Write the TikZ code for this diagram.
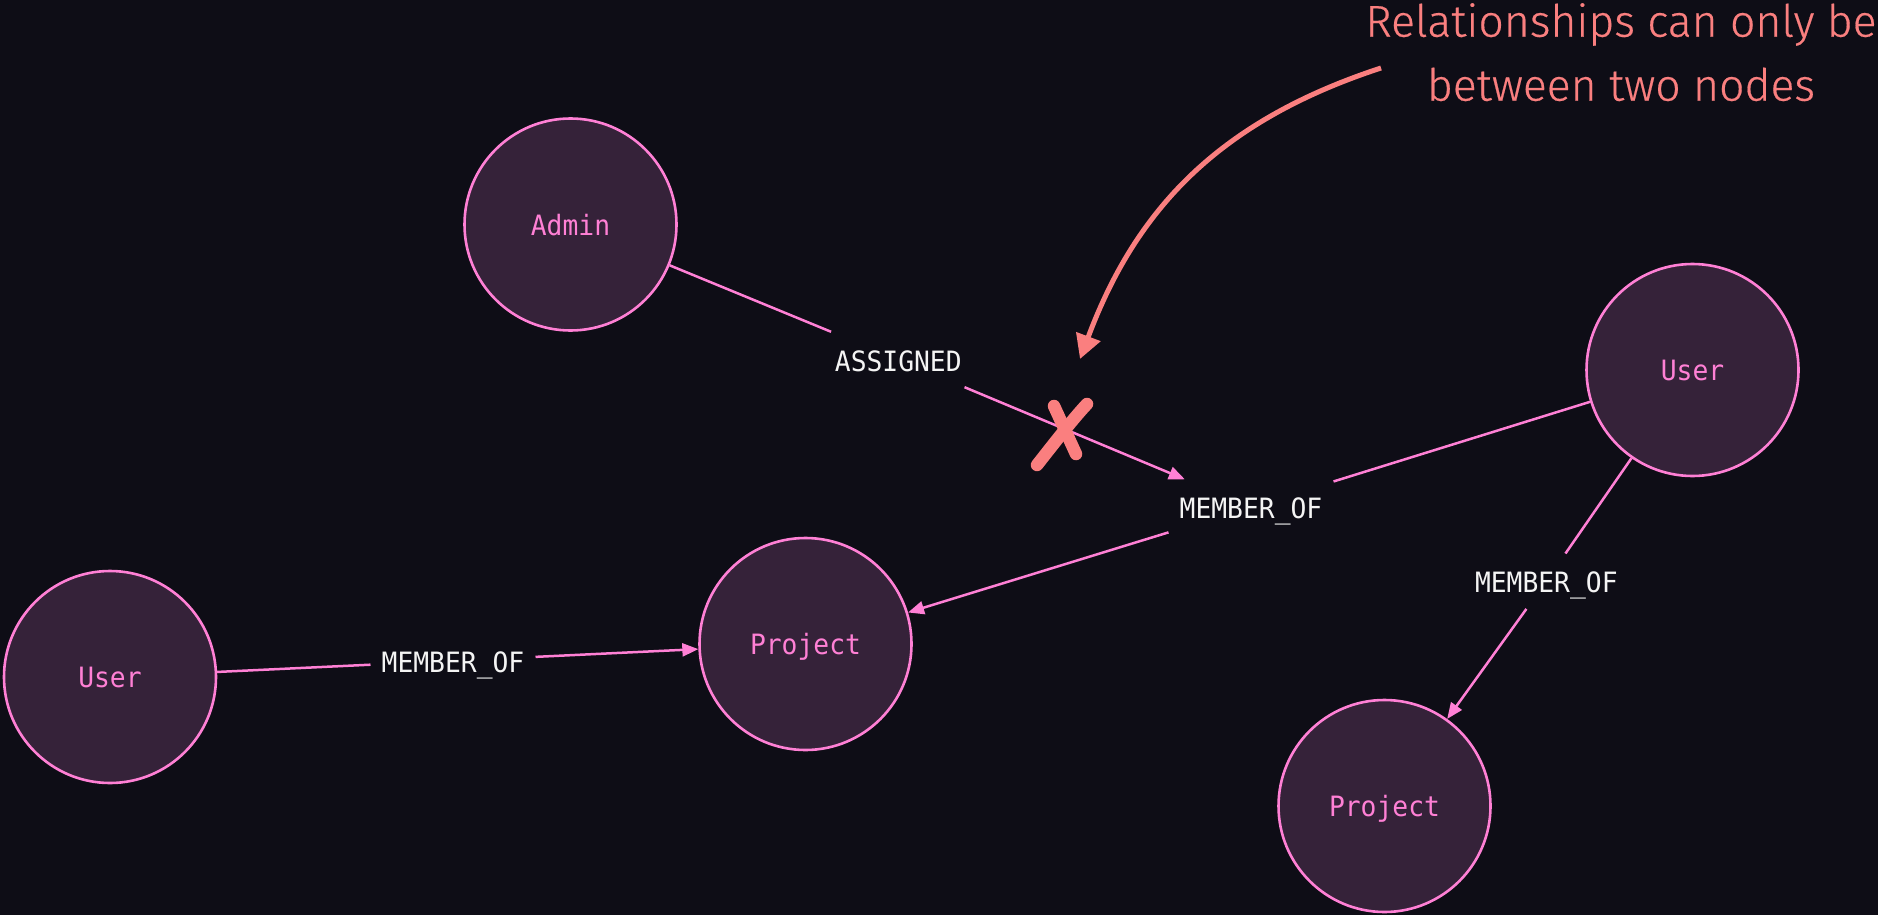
\documentclass[tikz,border=0pt]{standalone}
\usepackage{fontspec}
\usetikzlibrary{arrows.meta}
\newfontfamily\monofont[FakeStretch=0.94]{DejaVu Sans Mono}
\newfontfamily\notefont[FakeBold=0.4]{Fira Sans Light}
\definecolor{bg}{HTML}{0E0D16}
\definecolor{nodefill}{HTML}{352239}
\definecolor{edgepink}{HTML}{FF80D5}
\definecolor{reltext}{HTML}{F4F4F4}
\definecolor{notered}{HTML}{FA7F7F}

\begin{document}
\begin{tikzpicture}[x=1pt,y=-1pt,
  entity/.style={circle, draw=edgepink, line width=2.6pt, fill=nodefill,
    minimum size=212pt, inner sep=0pt, text=edgepink,
    text height=21pt, text depth=0pt,
    font=\monofont\fontsize{28}{30}\selectfont},
  rel/.style={anchor=base, inner xsep=11pt, inner ysep=16pt,
    text height=23pt, text depth=0pt, text=reltext,
    font=\monofont\fontsize{28}{30}\selectfont},
  link/.style={draw=edgepink, line width=2.5pt},
  linkarrow/.style={link, -{Triangle[length=16pt,width=13pt]}},
  note/.style={anchor=base, inner sep=0pt, text=notered,
    font=\notefont\fontsize{44.5}{54}\selectfont},
  strike/.style={draw=notered, line width=12.5pt, line cap=round}
]
% canvas
\path[use as bounding box, fill=bg] (0,0) rectangle (1878,915);

% entities
\node[entity] (admin) at (570.5,224.5) {Admin};
\node[entity] (userR) at (1692.5,370) {User};
\node[entity] (userL) at (110,677) {User};
\node[entity] (projM) at (805.5,644) {Project};
\node[entity] (projB) at (1384.5,806) {Project};

% relationship labels
\node[rel] (assigned) at (898.3,371) {ASSIGNED};
\node[rel] (memTop) at (1251,518.5) {MEMBER\_OF};
\node[rel] (memRight) at (1546.3,592.7) {MEMBER\_OF};
\node[rel] (memLeft) at (453,672.3) {MEMBER\_OF};

% relationships
\draw[link] (admin) -- (assigned);
\draw[linkarrow] (assigned) -- (memTop);
\draw[link] (userR) -- (memTop);
\draw[linkarrow] (memTop) -- (projM);
\draw[link] (userR) -- (memRight);
\draw[linkarrow] (memRight) -- (projB);
\draw[link] (userL) -- (memLeft);
\draw[linkarrow] (memLeft) -- (projM);

% annotation
\node[note] (noteA) at (1621,36.7) {Relationships can only be};
\node[note] (noteB) at (1621,100.7) {between two nodes};
\coordinate (tailStart) at (1381,68);
\coordinate (tailTip) at (1080,359);
\draw[notered, line width=5pt, -{Triangle[length=24pt,width=25pt]}]
  (tailStart) .. controls (1219,121) and (1136,209) .. (tailTip);

% cross over the invalid relationship
\draw[strike] (1037,465) .. controls (1052,446) and (1072,420) .. (1087,404);
\draw[strike] (1054,406) -- (1076,454);
\end{tikzpicture}
\end{document}
